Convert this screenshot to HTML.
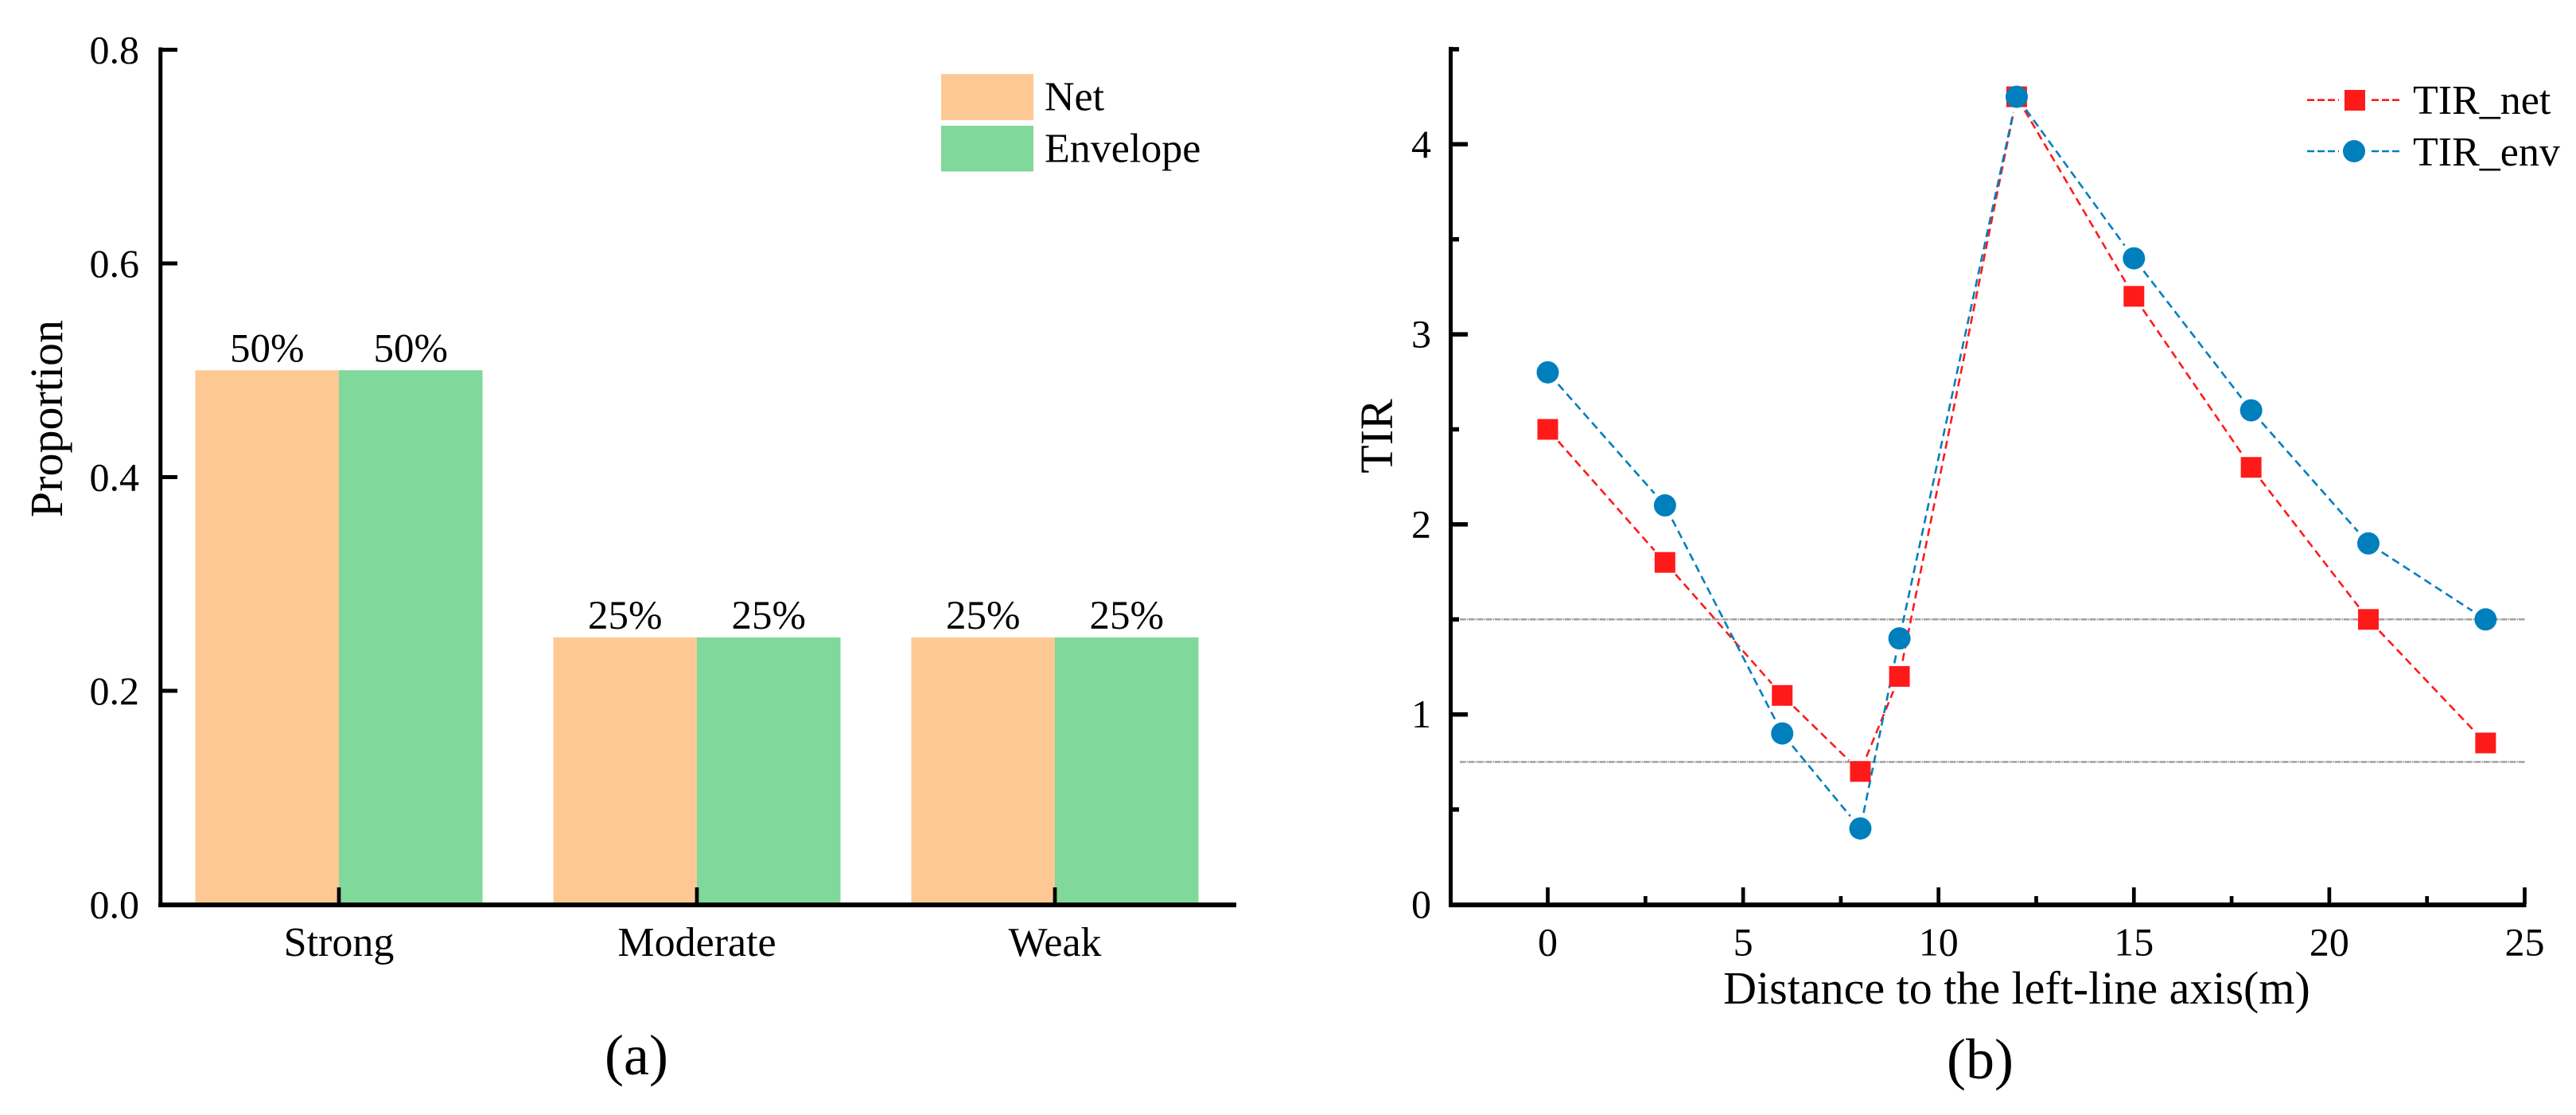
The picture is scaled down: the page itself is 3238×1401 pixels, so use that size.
<!DOCTYPE html>
<html lang="en">
<head>
<meta charset="utf-8">
<title>Proportion and TIR charts</title>
<style>
html,body{margin:0;padding:0;background:#fff;}
svg{display:block;}
text{font-family:"Liberation Serif",serif;fill:#000;}
</style>
</head>
<body>
<svg id="figure" xmlns="http://www.w3.org/2000/svg" width="3238" height="1401" viewBox="0 0 3238 1401">
  <rect x="0" y="0" width="3238" height="1401" fill="#ffffff"/>
  <g id="chartA"></g>
  <g id="chartB"></g>
  <text transform="translate(78,526) rotate(-90)" text-anchor="middle" font-size="58">Proportion</text>
  <text x="800" y="1350" text-anchor="middle" font-size="72">(a)</text>
  <text transform="translate(1750,548) rotate(-90)" text-anchor="middle" font-size="58">TIR</text>
  <text x="2535" y="1261" text-anchor="middle" font-size="58">Distance to the left-line axis(m)</text>
  <text x="2489" y="1355" text-anchor="middle" font-size="72">(b)</text>
  <g>
    <rect x="1183" y="93" width="116" height="58" fill="#fec894"/>
    <text x="1313" y="138.5" font-size="52">Net</text>
    <rect x="1183" y="158" width="116" height="57.5" fill="#80d89b"/>
    <text x="1313" y="203.5" font-size="52">Envelope</text>
  </g>
  <g>
    <line x1="2900" y1="125.7" x2="2940" y2="125.7" stroke="#ff1a1a" stroke-width="2.6" stroke-dasharray="9 4"/>
    <line x1="2981" y1="125.7" x2="3017" y2="125.7" stroke="#ff1a1a" stroke-width="2.6" stroke-dasharray="9 4"/>
    <rect x="2947" y="113" width="26" height="26" fill="#ff1a1a"/>
    <text x="3033" y="143" font-size="52">TIR_net</text>
    <line x1="2900" y1="190" x2="2940" y2="190" stroke="#007fbd" stroke-width="2.6" stroke-dasharray="9 4"/>
    <line x1="2981" y1="190" x2="3017" y2="190" stroke="#007fbd" stroke-width="2.6" stroke-dasharray="9 4"/>
    <circle cx="2959" cy="190" r="14" fill="#007fbd"/>
    <text x="3033" y="208" font-size="52">TIR_env</text>
  </g>
</svg>
<script>
// Panel (a) data
var categories = ["Strong", "Moderate", "Weak"];
var netShare = [0.5, 0.25, 0.25];
var envelopeShare = [0.5, 0.25, 0.25];
var yTicksA = [0, 0.2, 0.4, 0.6, 0.8];
var yTickLabelsA = ["0.0", "0.2", "0.4", "0.6", "0.8"];

// Panel (b) data
var distances = [0, 3, 6, 8, 9, 12, 15, 18, 21, 24];
var tirNet = [2.5, 1.8, 1.1, 0.7, 1.2, 4.25, 3.2, 2.3, 1.5, 0.85];
var tirEnv = [2.8, 2.1, 0.9, 0.4, 1.4, 4.25, 3.4, 2.6, 1.9, 1.5];
var xTicksB = [0, 5, 10, 15, 20, 25];
var xMinorTicksB = [2.5, 7.5, 12.5, 17.5, 22.5];
var yTicksB = [0, 1, 2, 3, 4];
var yMinorTicksB = [0.5, 1.5, 2.5, 3.5, 4.5];
var thresholds = [1.5, 0.75];

var NS = "http://www.w3.org/2000/svg";
var chartA = document.getElementById("chartA");
var chartB = document.getElementById("chartB");

function make(parent, tag, props, txt) {
  var el = document.createElementNS(NS, tag);
  for (var k in props) el.setAttribute(k, props[k]);
  if (txt !== undefined) el.textContent = txt;
  parent.appendChild(el);
  return el;
}

// Axis functions
function xA(i) { return 426 + i * 450; }
function yA(v) { return 1136.5 - v * 1342.5; }
function xB(v) { return 1945.5 + v * 49.12; }
function yB(v) { return 1136.5 - v * 238.8; }

var BAR_W = 180.5;
var COLOR_NET = "#fec894";
var COLOR_ENV = "#80d89b";
var RED = "#ff1a1a";
var BLUE = "#007fbd";

// ---- Panel (a) ----
categories.forEach(function (cat, i) {
  var el;
  el = make(chartA, "rect", { x: xA(i) - BAR_W, y: yA(netShare[i]), width: BAR_W, height: yA(0) - yA(netShare[i]), fill: COLOR_NET });
  
  
  el = make(chartA, "rect", { x: xA(i), y: yA(envelopeShare[i]), width: BAR_W, height: yA(0) - yA(envelopeShare[i]), fill: COLOR_ENV });
  
  
  el = make(chartA, "text", { x: xA(i) - BAR_W / 2, y: yA(netShare[i]) - 11, "text-anchor": "middle", "font-size": 51 }, Math.round(netShare[i] * 100) + "%");
  
  
  el = make(chartA, "text", { x: xA(i) + BAR_W / 2, y: yA(envelopeShare[i]) - 11, "text-anchor": "middle", "font-size": 51 }, Math.round(envelopeShare[i] * 100) + "%");
  
  
  el = make(chartA, "line", { x1: xA(i), y1: 1115, x2: xA(i), y2: 1136, stroke: "#000", "stroke-width": 4.7 });
  
  
  el = make(chartA, "text", { x: xA(i), y: 1201, "text-anchor": "middle", "font-size": 52 }, cat);
  
  
});

var axisEl;
axisEl = make(chartA, "line", { x1: 201.75, y1: yA(0.8) - 3, x2: 201.75, y2: 1140, stroke: "#000", "stroke-width": 5 });


axisEl = make(chartA, "line", { x1: 199, y1: 1137, x2: 1554, y2: 1137, stroke: "#000", "stroke-width": 6 });



yTicksA.forEach(function (v, i) {
  var el;
  if (v !== 0) {
    el = make(chartA, "line", { x1: 201, y1: yA(v), x2: 223, y2: yA(v), stroke: "#000", "stroke-width": 5 });
    
    
  }
  el = make(chartA, "text", { x: 175, y: yA(v) + 17, "text-anchor": "end", "font-size": 50 }, yTickLabelsA[i]);
  
  
});

// ---- Panel (b) ----
thresholds.forEach(function (v) {
  var el = make(chartB, "line", { x1: 1835, y1: yB(v), x2: 3174, y2: yB(v), stroke: "#a0a0a0", "stroke-width": 2.5, "stroke-dasharray": "7.5 1.2 1.5 0.8" });
  
  
});

axisEl = make(chartB, "line", { x1: 1823.5, y1: yB(4.5) - 3, x2: 1823.5, y2: 1140, stroke: "#000", "stroke-width": 5 });


axisEl = make(chartB, "line", { x1: 1821, y1: 1137, x2: 3175.5, y2: 1137, stroke: "#000", "stroke-width": 6 });



yTicksB.forEach(function (v) {
  var el;
  if (v !== 0) {
    el = make(chartB, "line", { x1: 1823, y1: yB(v), x2: 1845, y2: yB(v), stroke: "#000", "stroke-width": 5.5 });
    
    
  }
  el = make(chartB, "text", { x: 1799, y: yB(v) + 16.5, "text-anchor": "end", "font-size": 50 }, String(v));
  
  
});
yMinorTicksB.forEach(function (v) {
  var el = make(chartB, "line", { x1: 1823, y1: yB(v), x2: 1834, y2: yB(v), stroke: "#000", "stroke-width": 5.5 });
  
  
});
xTicksB.forEach(function (v) {
  var el = make(chartB, "line", { x1: xB(v), y1: 1115, x2: xB(v), y2: 1136, stroke: "#000", "stroke-width": 4.7 });
  
  
  el = make(chartB, "text", { x: xB(v), y: 1200.5, "text-anchor": "middle", "font-size": 50 }, String(v));
  
  
});
xMinorTicksB.forEach(function (v) {
  var el = make(chartB, "line", { x1: xB(v), y1: 1126, x2: xB(v), y2: 1136, stroke: "#000", "stroke-width": 4.7 });
  
  
});

function drawSegments(values, color, name) {
  var TRIM = 20;
  for (var i = 0; i < values.length - 1; i++) {
    var x1 = xB(distances[i]), y1 = yB(values[i]);
    var x2 = xB(distances[i + 1]), y2 = yB(values[i + 1]);
    var len = Math.sqrt((x2 - x1) * (x2 - x1) + (y2 - y1) * (y2 - y1));
    var ux = (x2 - x1) / len, uy = (y2 - y1) / len;
    var seg = make(chartB, "line", {
      x1: x1 + ux * TRIM, y1: y1 + uy * TRIM,
      x2: x2 - ux * TRIM, y2: y2 - uy * TRIM,
      stroke: color, "stroke-width": 2.6, "stroke-dasharray": "10 6"
    });
    
    
  }
}
drawSegments(tirNet, RED, 'line-segment-tir-net');
drawSegments(tirEnv, BLUE, 'line-segment-tir-env');

tirNet.forEach(function (v, i) {
  var el = make(chartB, "rect", { x: xB(distances[i]) - 13, y: yB(v) - 13, width: 26, height: 26, fill: RED });
  
  
});
tirEnv.forEach(function (v, i) {
  var el = make(chartB, "circle", { cx: xB(distances[i]), cy: yB(v), r: 14, fill: BLUE });
  
  
});
</script>
</body>
</html>
